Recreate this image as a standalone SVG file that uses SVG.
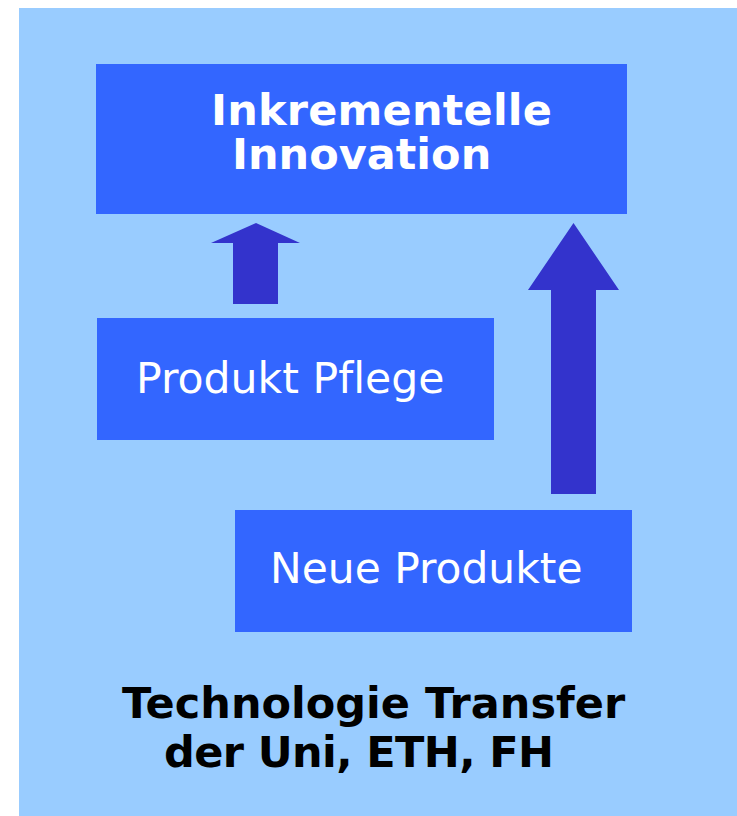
<svg xmlns="http://www.w3.org/2000/svg" width="737" height="816" viewBox="0 0 737 816">
<style>
.box{fill:#3366FF}
.arrow{fill:#3333CC}
.t{font-family:"DejaVu Sans","Verdana",sans-serif;fill:#FFFFFF;font-variant-ligatures:none;font-feature-settings:"liga" 0}
.b{font-weight:bold}
.k{fill:#000000}
</style>
<rect x="0" y="0" width="737" height="816" fill="#FFFFFF"/>
<rect x="19" y="8" width="718" height="808" fill="#99CCFF"/>
<g id="connectors">
<polygon class="arrow" points="256,223 300,243 278,243 278,304 233,304 233,243 211,243"/>
<polygon class="arrow" points="573.5,223 619,290 596,290 596,494 551,494 551,290 528,290"/>
</g>
<g id="node-inkrementelle">
<rect class="box" x="96" y="64" width="531" height="150"/>
<text class="t b" x="211" y="125" font-size="43" letter-spacing="0.2">Inkrementelle</text>
<text class="t b" x="232" y="169" font-size="43">Innovation</text>
</g>
<g id="node-pflege">
<rect class="box" x="97" y="318" width="397" height="122"/>
<text class="t" x="136" y="393" font-size="42.6">Produkt Pflege</text>
</g>
<g id="node-neue">
<rect class="box" x="235" y="510" width="397" height="122"/>
<text class="t" x="270" y="583" font-size="42.4">Neue Produkte</text>
</g>
<g id="label-transfer">
<text class="t b k" x="122" y="718" font-size="43">Technologie Transfer</text>
<text class="t b k" x="164" y="767" font-size="43" letter-spacing="-0.6">der Uni, ETH, FH</text>
</g>
</svg>
